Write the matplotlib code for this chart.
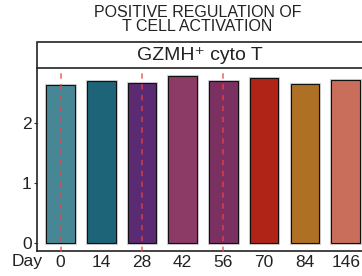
import numpy as np
import matplotlib.pyplot as plt
from matplotlib.patches import Rectangle

plt.rcParams['font.family'] = ['Liberation Sans', 'DejaVu Sans']

days = ['0', '14', '28', '42', '56', '70', '84', '146']
values = [2.63, 2.70, 2.66, 2.77, 2.70, 2.75, 2.65, 2.71]
colors = ['#478795', '#1d6479', '#5a2a72', '#8c3a66', '#7a3060', '#b02418', '#ae7025', '#c86e5a']
marked_days = ['0', '28', '56']
title = "POSITIVE REGULATION OF\nT CELL ACTIVATION"
panel = "GZMH⁺ cyto T"

fig = plt.figure(figsize=(3.62, 2.76), dpi=100)
ax = fig.add_axes([0.1014, 0.0917, 0.9193, 0.6619])

x = np.arange(len(days))
ax.bar(x, values, width=0.7, color=colors, edgecolor='#d0d0d0', linewidth=2.2, zorder=2)
ax.bar(x, values, width=0.7, color=colors, edgecolor='#111111', linewidth=0.8, zorder=3)

for d in marked_days:
    i = days.index(d)
    ax.plot([i, i], [-0.15, 3.0], color=(0.95, 0.25, 0.25, 0.7), lw=1.3,
            dashes=(3, 3), zorder=4, clip_on=False)

ax.set_xlim(-0.585, 7.585)
ax.set_ylim(-0.12, 2.91)
ax.set_xticks(x)
ax.set_xticklabels(days, fontsize=12.5, color='#222222')
ax.set_yticks([0, 1, 2])
ax.set_yticklabels(['0', '1', '2'], fontsize=12.5, color='#222222')
ax.tick_params(axis='both', length=2, width=0.8, pad=1.5, color='#333333')
ax.tick_params(axis='x', length=0, pad=3)
for s in ['top', 'right']:
    ax.spines[s].set_visible(False)
for s in ['left', 'bottom']:
    ax.spines[s].set_linewidth(1.2)
    ax.spines[s].set_color('#222222')

ax.text(0.018, -0.018, 'Day', transform=ax.transAxes, ha='right', va='top',
        fontsize=12.5, color='#222222')

# strip
strip = Rectangle((0.1014, 0.7536), 0.9193, 0.0931, transform=fig.transFigure,
                  facecolor='white', edgecolor='#222222', linewidth=1.2, clip_on=False)
fig.patches.append(strip)
fig.text(0.552, 0.800, panel, ha='center', va='center', fontsize=14, color='#222222')

fig.text(0.545, 0.929, title, ha='center', va='center', fontsize=11.5,
         linespacing=0.95, color='#222222')

fig.savefig('out.png', dpi=100)
